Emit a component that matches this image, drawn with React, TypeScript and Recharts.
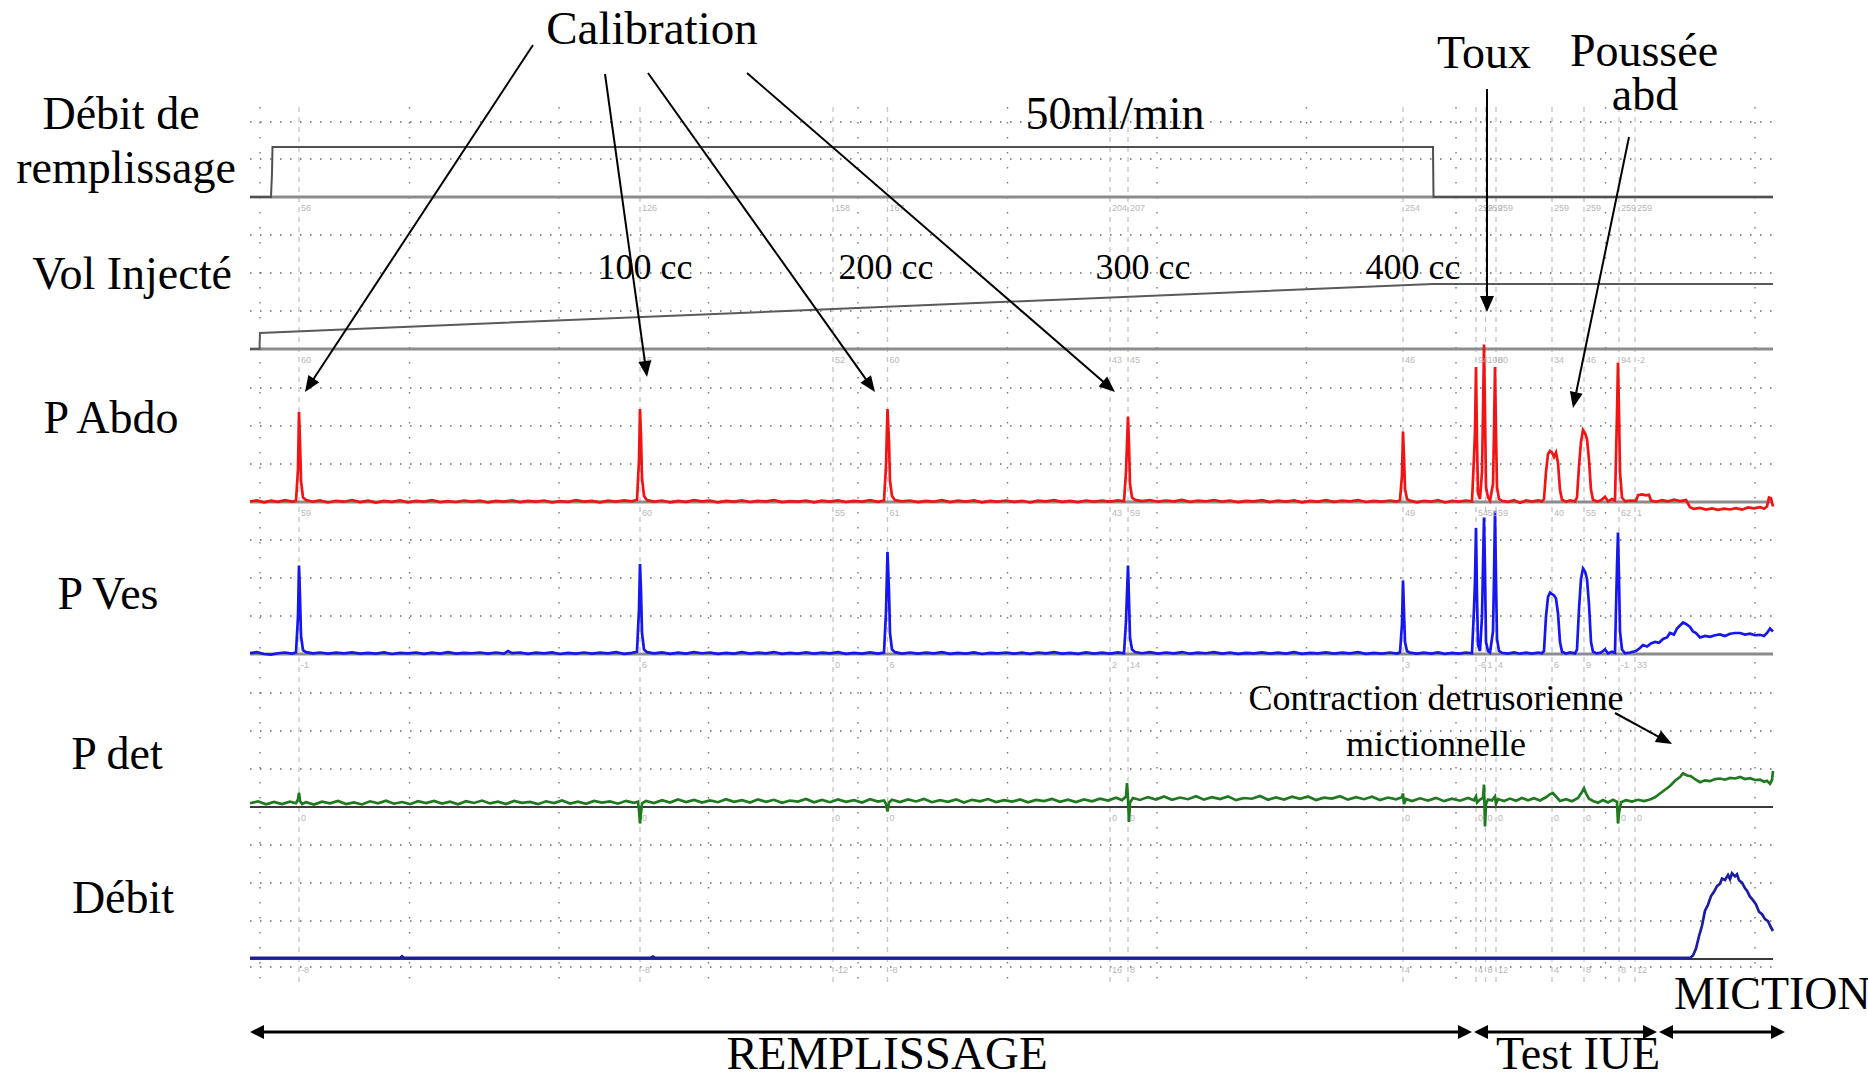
import React from "react";
import { LineChart, Line, XAxis, YAxis, ReferenceLine } from "recharts";

const W = 1868;
const H = 1077;
const T0 = 250; // pixel where time 0 sits
const T_DOMAIN: [number, number] = [-T0, W - T0];

// ---------- traces: [time (s), value] ----------
const debitRemplissage: [number, number][] = [
  [0, 0], [21, 0], [22, 24], [22.5, 50], [1183, 50], [1183.5, 0], [1523, 0],
];

const volInjecte: [number, number][] = [
  [0, 0], [9.5, 0], [10, 107], [1183, 433], [1523, 433],
];

const pAbdo: [number, number][] = [
  [0, 0.4], [7, 1.1], [14, -0.2], [21, 0.9], [28, 0.1], [35, 1.2], [42, 0.3], [46, 0.8],
  [48, 22], [49, 60], [50, 40], [51, 14], [53, 3], [56, 1.3],
  [63, 0.2], [70, 1.0], [78, -0.3], [86, 0.8], [94, 0.2], [102, 1.3], [110, 0.0], [118, 0.9],
  [126, -0.4], [134, 0.7], [142, 0.1], [150, 1.1], [158, -0.2], [166, 0.8], [174, 0.3], [182, 1.2],
  [190, -0.1], [198, 0.6], [206, 0.0], [214, 1.0], [222, 0.2], [230, 0.9], [238, -0.3], [246, 0.7],
  [254, 0.2], [262, 1.1], [270, -0.1], [278, 0.8], [286, 0.3], [294, 1.0], [302, -0.2], [310, 0.6],
  [318, 0.1], [326, 1.2], [334, 0.3], [342, 0.8], [350, -0.2], [358, 0.9], [366, 0.2], [374, 1.1],
  [382, 0.4], [387, 1.5], [389, 28], [390, 62], [391, 44], [392, 16], [394, 4], [397, 1.2],
  [404, 0.3], [412, 1.0], [420, -0.2], [428, 0.8], [436, 0.1], [444, 1.2], [452, 0.4], [460, 0.9],
  [468, -0.3], [476, 0.7], [484, 0.2], [492, 1.1], [500, 0.0], [508, 0.8], [516, 0.4], [524, 1.3],
  [532, -0.1], [540, 0.6], [548, 0.2], [556, 1.0], [564, -0.2], [572, 0.9], [580, 0.3], [588, 1.1],
  [596, 0.0], [604, 0.7], [612, 0.3], [620, 1.2], [628, 0.1], [634, 0.9],
  [636, 24], [637.5, 62], [639, 40], [640, 14], [642, 4], [645, 1.2],
  [652, 0.4], [660, 1.0], [668, -0.1], [676, 0.8], [684, 0.3], [692, 1.2], [700, 0.0], [708, 0.9],
  [716, 0.2], [724, 1.1], [732, -0.2], [740, 0.7], [748, 0.3], [756, 1.0], [764, 0.1], [772, 0.8],
  [780, -0.3], [788, 0.9], [796, 0.4], [804, 1.2], [812, 0.1], [820, 0.8], [828, -0.1], [836, 1.0],
  [844, 0.3], [852, 0.9], [860, 0.2], [868, 1.1], [874, 0.5],
  [876, 20], [878, 57], [879, 38], [880, 12], [882, 3], [885, 1.4],
  [892, 0.6], [900, 1.3], [908, 0.2], [916, 1.0], [924, 0.4], [932, 1.4], [940, 0.1], [948, 0.9],
  [956, 0.5], [964, 1.3], [972, 0.2], [980, 1.0], [988, -0.1], [996, 0.8], [1004, 0.4], [1012, 1.2],
  [1020, 0.0], [1028, 0.9], [1036, 0.3], [1044, 1.1], [1052, -0.2], [1060, 0.7], [1068, 0.3], [1076, 1.2],
  [1084, 0.1], [1092, 0.9], [1100, 0.4], [1108, 1.3], [1116, 0.0], [1124, 0.8], [1132, 0.3], [1140, 1.0],
  [1147, 0.2], [1150, 1.2], [1152, 18], [1153, 47], [1154, 30], [1155, 9], [1157, 2], [1160, 0.9],
  [1167, -0.2], [1174, 0.8], [1181, 0.2], [1188, 1.2], [1195, -0.3], [1202, 0.7], [1209, 0.3], [1216, 1.0],
  [1222, 0.4], [1224, 30], [1225, 47], [1226, 90], [1227, 40], [1228, 6], [1230, 2],
  [1232, 20], [1233, 59], [1234, 105], [1235, 60], [1236, 10], [1238, 3], [1240, 1],
  [1243, 12], [1244, 46], [1245, 90], [1246, 46], [1247, 10], [1249, 2],
  [1252, 0.8], [1258, 0.1], [1264, 1.2], [1270, -0.6], [1276, 1.0], [1282, 0.3], [1288, 1.1], [1292, 0.4],
  [1294, 2], [1296, 20], [1298, 32], [1300, 34], [1302, 33], [1304, 30], [1306, 33], [1308, 26], [1310, 8], [1312, 1.5],
  [1316, 0.2], [1320, 1.0], [1325, 0.4],
  [1327, 3], [1329, 24], [1331, 40], [1333, 48], [1335, 46], [1337, 42], [1339, 28], [1341, 8], [1343, 1.5],
  [1347, 0.3], [1351, 1.2], [1355, 3.5], [1358, 0.4], [1362, 2.0], [1365, 1.0],
  [1366, 30], [1367, 59], [1368, 93], [1369, 60], [1370, 20], [1372, 3], [1375, 0.5],
  [1380, 1.0], [1386, 0.8], [1388, 4.5], [1392, 5.0], [1396, 4.4], [1399, 4.8], [1401, 1.0],
  [1406, 0.2], [1412, 1.2], [1418, 0.4], [1424, 1.5], [1430, 0.6], [1436, 1.3],
  [1440, -3.5], [1444, -4.6], [1450, -4.0], [1456, -5.0], [1462, -4.3], [1468, -5.2], [1474, -4.4],
  [1480, -5.0], [1486, -4.1], [1492, -5.1], [1498, -3.6], [1504, -4.2], [1510, -3.4], [1514, -4.5],
  [1517, -3.0], [1519, 3.0], [1521, 2.5], [1523, -3.0],
];

const pVes: [number, number][] = [
  [0, 0.6], [7, 1.2], [14, 0.0], [21, -0.4], [28, 0.5], [35, 1.0], [42, 0.3], [46, 1.0],
  [48, 25], [49, 59], [50, 38], [51, 12], [53, 2.5], [56, 1.2],
  [63, 0.4], [70, 1.0], [78, 0.2], [86, 0.9], [94, 0.4], [102, 1.1], [110, 0.2], [118, 0.8],
  [126, 0.3], [134, 1.1], [142, 0.0], [150, 0.8], [158, 0.4], [166, 1.0], [174, 0.1], [182, 0.9],
  [190, 0.3], [198, 1.2], [206, 0.2], [214, 0.8], [222, 0.5], [230, 1.0], [238, 0.3], [246, 1.0],
  [254, 0.2], [258, 2.0], [262, 0.6], [270, 1.0], [278, 0.1], [286, 0.9], [294, 0.4], [302, 1.1],
  [310, 0.0], [318, 0.8], [326, 0.3], [334, 1.0], [342, 0.2], [350, 0.9], [358, 0.4], [366, 1.2],
  [374, 0.1], [382, 0.8], [387, 1.5], [389, 30], [390, 60], [391, 42], [392, 14], [394, 3], [397, 1.2],
  [404, 0.4], [412, 1.1], [420, 0.1], [428, 0.9], [436, 0.3], [444, 1.2], [452, 0.5], [460, 1.0],
  [468, 0.1], [476, 0.8], [484, 0.3], [492, 1.2], [500, 0.2], [508, 0.9], [516, 0.4], [524, 1.3],
  [532, 0.1], [540, 0.7], [548, 0.3], [556, 1.1], [564, 0.2], [572, 0.9], [580, 0.4], [588, 1.2],
  [596, 0.1], [604, 0.8], [612, 0.3], [620, 1.1], [628, 0.2], [634, 0.9],
  [636, 28], [637.5, 68], [639, 42], [640, 14], [642, 3], [645, 1.2],
  [652, 0.3], [660, 1.0], [668, 0.2], [676, 0.9], [684, 0.4], [692, 1.2], [700, 0.1], [708, 0.8],
  [716, 0.3], [724, 1.1], [732, 0.0], [740, 0.8], [748, 0.4], [756, 1.0], [764, 0.2], [772, 0.9],
  [780, 0.1], [788, 1.0], [796, 0.4], [804, 1.2], [812, 0.2], [820, 0.8], [828, 0.1], [836, 1.1],
  [844, 0.3], [852, 0.9], [860, 0.2], [868, 1.1], [874, 0.5],
  [876, 22], [878, 59], [879, 36], [880, 11], [882, 3], [885, 1.3],
  [892, 0.5], [900, 1.2], [908, 0.3], [916, 1.0], [924, 0.4], [932, 1.3], [940, 0.2], [948, 0.9],
  [956, 0.5], [964, 1.2], [972, 0.3], [980, 1.0], [988, 0.1], [996, 0.8], [1004, 0.4], [1012, 1.1],
  [1020, 0.2], [1028, 0.9], [1036, 0.3], [1044, 1.2], [1052, 0.1], [1060, 0.7], [1068, 0.4], [1076, 1.1],
  [1084, 0.2], [1092, 0.9], [1100, 0.4], [1108, 1.2], [1116, 0.1], [1124, 0.8], [1132, 0.3], [1140, 1.0],
  [1147, 0.3], [1150, 1.1], [1152, 20], [1153, 49], [1154, 28], [1155, 8], [1157, 2], [1160, 0.9],
  [1167, 0.2], [1174, 0.9], [1181, 0.3], [1188, 1.1], [1195, 0.1], [1202, 0.8], [1209, 0.3], [1216, 1.0],
  [1222, 0.5], [1224, 30], [1225, 49], [1226, 84], [1227, 38], [1228, 6], [1230, 2],
  [1232, 25], [1233, 58], [1234, 91], [1235, 55], [1236, 8], [1238, 2], [1240, 1],
  [1243, 15], [1244, 50], [1245, 95], [1246, 50], [1247, 10], [1249, 2],
  [1252, 0.8], [1258, 0.3], [1264, 1.1], [1270, 0.2], [1276, 0.9], [1282, 0.3], [1288, 1.0], [1292, 0.5],
  [1294, 2], [1296, 25], [1298, 38], [1300, 41], [1302, 40], [1304, 39], [1306, 37], [1308, 27], [1310, 8], [1312, 1.5],
  [1316, 0.3], [1320, 1.0], [1325, 0.4],
  [1327, 3], [1329, 30], [1331, 50], [1333, 57], [1335, 55], [1337, 50], [1339, 33], [1341, 8], [1343, 1.5],
  [1347, 0.4], [1351, 1.0], [1355, 3.0], [1358, 0.4], [1362, 1.5], [1365, 0.8],
  [1366, 30], [1367, 58], [1368, 81], [1369, 50], [1370, 15], [1372, 3], [1375, 0.5],
  [1380, 1.0], [1386, 2.0], [1390, 4.0], [1393, 6.0], [1397, 5.0], [1401, 7.0], [1405, 8.0], [1409, 7.5],
  [1413, 10], [1417, 11], [1420, 14], [1424, 13], [1427, 17], [1430, 19], [1433, 21], [1436, 20],
  [1440, 18], [1443, 15], [1446, 14], [1450, 11], [1455, 12], [1460, 11.5], [1465, 12.5], [1470, 13],
  [1475, 12], [1480, 13.5], [1485, 14], [1490, 14], [1495, 13], [1500, 13.5], [1505, 12.5], [1510, 12.8],
  [1514, 12], [1517, 14], [1520, 17], [1523, 15],
];

const pDet: [number, number][] = [
  [0, 2.5], [8, 3.8], [16, 1.8], [24, 3.4], [32, 2.0], [40, 3.6], [46, 2.5],
  [48, 5], [49, 9.5], [50, 4], [52, 2.0], [56, 3.2],
  [64, 1.6], [72, 3.5], [80, 2.4], [88, 4.0], [96, 2.0], [104, 3.1], [112, 1.7], [120, 3.8],
  [128, 2.5], [136, 4.2], [144, 2.2], [152, 3.3], [160, 1.9], [168, 3.9], [176, 2.6], [184, 4.1],
  [192, 2.3], [200, 3.5], [208, 1.8], [216, 3.9], [224, 2.7], [232, 4.3], [240, 2.4], [248, 3.6],
  [256, 2.0], [264, 4.0], [272, 2.8], [280, 3.4], [288, 1.9], [296, 3.8], [304, 2.6], [312, 4.4],
  [320, 2.3], [328, 3.5], [336, 2.1], [344, 4.0], [352, 2.9], [360, 3.7], [368, 2.2], [376, 4.1],
  [384, 2.8], [388, 3.5], [389, -2], [390, -11], [391, -4], [392, 2.5], [396, 4.0],
  [404, 2.6], [412, 4.5], [420, 3.0], [428, 5.0], [436, 3.3], [444, 4.7], [452, 2.9], [460, 4.4],
  [468, 3.2], [476, 5.2], [484, 3.5], [492, 4.6], [500, 3.0], [508, 5.1], [516, 3.4], [524, 4.8],
  [532, 2.8], [540, 4.3], [548, 3.6], [556, 5.3], [564, 3.1], [572, 4.7], [580, 3.2], [588, 5.0],
  [596, 3.4], [604, 4.6], [612, 3.0], [620, 5.2], [628, 3.6], [634, 4.4],
  [636, 2], [637.5, -3], [639, 3], [642, 4.8],
  [650, 3.3], [658, 5.0], [666, 3.7], [674, 5.4], [682, 3.2], [690, 4.6], [698, 3.5], [706, 5.1],
  [714, 3.0], [722, 4.8], [730, 3.8], [738, 5.3], [746, 3.3], [754, 4.5], [762, 3.6], [770, 5.0],
  [778, 3.1], [786, 4.7], [794, 3.9], [802, 5.4], [810, 3.5], [818, 4.9], [826, 3.3], [834, 5.0],
  [842, 3.8], [850, 5.6], [858, 4.3], [866, 6.2], [872, 4.6],
  [876, 7], [877, 16], [878, 5], [879, -10], [880, 3], [883, 6.0],
  [890, 4.7], [898, 6.6], [906, 5.0], [914, 7.0], [922, 4.8], [930, 6.3], [938, 5.2], [946, 7.2],
  [954, 4.9], [962, 6.5], [970, 5.3], [978, 7.1], [986, 4.6], [994, 6.0], [1002, 5.5], [1010, 7.3],
  [1018, 4.8], [1026, 6.4], [1034, 5.0], [1042, 6.9], [1050, 5.4], [1058, 7.0], [1066, 4.7], [1074, 6.2],
  [1082, 5.6], [1090, 7.2], [1098, 4.9], [1106, 6.5], [1114, 5.2], [1122, 6.8], [1130, 4.6], [1138, 6.3],
  [1146, 5.1], [1152, 6.5], [1153, 9], [1154, 2], [1156, 5.4],
  [1162, 4.0], [1170, 5.8], [1178, 4.3], [1186, 6.1], [1194, 3.9], [1202, 5.5], [1210, 4.2], [1218, 6.0],
  [1224, 4.5], [1226, 7], [1227, 3], [1230, 5.0], [1233, 6], [1234, 15], [1235, -13], [1236, 2], [1238, 5],
  [1242, 4.4], [1245, 7], [1246, 2], [1248, 5.3],
  [1254, 4.0], [1260, 5.6], [1266, 4.2], [1272, 6.0], [1278, 4.5], [1284, 5.8], [1290, 4.3], [1296, 6.5],
  [1300, 8.5], [1303, 9.3], [1306, 7], [1310, 4.0], [1316, 5.2], [1322, 3.8], [1328, 6.0],
  [1332, 10], [1334, 12.5], [1336, 9], [1339, 5.5], [1343, 4.0], [1348, 2.8], [1353, 4.6], [1358, 3.0],
  [1363, 4.8], [1367, 3.5], [1368, -11], [1369, -4], [1371, 3.2], [1376, 4.5], [1382, 3.6], [1388, 4.8],
  [1394, 3.9], [1400, 5.0], [1405, 6.5], [1410, 9.0], [1415, 11.5], [1420, 14.0], [1425, 17.5], [1430, 20.0],
  [1433, 22.5], [1437, 21.0], [1441, 20.5], [1445, 18.5], [1450, 16.5], [1455, 17.8], [1460, 17.2], [1465, 18.6],
  [1470, 19.0], [1475, 18.2], [1480, 19.4], [1485, 19.0], [1490, 20.0], [1495, 18.6], [1500, 19.2], [1505, 18.0],
  [1510, 18.3], [1514, 16.8], [1517, 17.5], [1520, 15.5], [1522, 18], [1523, 24],
];

const debit: [number, number][] = [
  [0, 0.3], [150, 0.3], [152, 0.8], [154, 0.3], [400, 0.3], [403, 0.7], [405, 0.3], [700, 0.3],
  [1000, 0.3], [1250, 0.3], [1440, 0.3], [1443, 1.0], [1446, 3.0], [1449, 6.5], [1452, 9.5],
  [1455, 13.8], [1458, 15.5], [1461, 18.0], [1464, 19.2], [1467, 20.8], [1470, 21.5], [1472, 23.0],
  [1475, 22.6], [1478, 24.0], [1480, 22.8], [1482, 24.5], [1485, 23.6], [1487, 24.2], [1489, 22.5],
  [1492, 21.8], [1495, 20.2], [1497, 19.5], [1500, 17.8], [1503, 16.8], [1506, 15.6], [1509, 13.5],
  [1512, 12.8], [1515, 11.4], [1518, 10.8], [1521, 9.0], [1523, 8.0],
];

// event markers (time, s) and the small values printed by the recorder under each baseline
const eventTimes = [49, 390, 583, 637.5, 860, 878, 1153, 1226, 1235.5, 1246, 1302, 1334, 1369, 1385];
const labelsRempl = ["56", "126", "158", "167", "204", "207", "254", "259", "259", "259", "259", "259", "259", "259"];
const labelsVol = ["60", "55", "52", "60", "43", "45", "46", "94", "100", "80", "34", "46", "94", "-2"];
const labelsAbdo = ["59", "60", "55", "61", "43", "59", "49", "54", "58", "59", "40", "55", "62", "1"];
const labelsVes = ["-1", "6", "0", "6", "2", "14", "3", "-6", "1", "4", "6", "9", "-1", "33"];
const labelsDet = ["0", "0", "0", "0", "0", "0", "0", "0", "0", "0", "0", "0", "0", "0"];
const labelsDebit = ["-8", "-8", "-12", "-8", "16", "8", "4", "4", "8", "12", "4", "8", "8", "12"];

// ---------- layout / style ----------
const SERIES = [
  { key: "rempl", data: debitRemplissage, base: 197, k: 1, color: "#505050", width: 2 },
  { key: "vol", data: volInjecte, base: 349, k: 0.15, color: "#5a5a5a", width: 2 },
  { key: "abdo", data: pAbdo, base: 502, k: 1.5, color: "#f01414", width: 2.7 },
  { key: "ves", data: pVes, base: 654, k: 1.5, color: "#1616ee", width: 2.7 },
  { key: "det", data: pDet, base: 807, k: 1.5, color: "#1f7a1f", width: 2.7 },
  { key: "debit", data: debit, base: 959, k: 3.5, color: "#1c1ca0", width: 2.7 },
];
const LABEL_ROWS = [labelsRempl, labelsVol, labelsAbdo, labelsVes, labelsDet, labelsDebit];

const GRID_TOP = 107;
const GRID_BOTTOM = 982;
const T_END = 1523;
const gridRows = [
  122, 159,
  ...SERIES.slice(1).flatMap((s) => [s.base - 114, s.base - 76, s.base - 38]),
  967,
];
const gridCols = Array.from({ length: 11 }, (_, i) => 10 + 149.5 * i);

const rows: Record<string, number>[] = [];
SERIES.forEach((s) => s.data.forEach(([t, v]) => rows.push({ t, [s.key]: v })));
rows.sort((a, b) => a.t - b.t);

const SERIF = '"Liberation Serif", "Times New Roman", Times, serif';

function Arrow({ x1, y1, x2, y2, sw = 2, hl = 16, hw = 6.5 }: any) {
  const dx = x2 - x1;
  const dy = y2 - y1;
  const L = Math.hypot(dx, dy);
  const ux = dx / L;
  const uy = dy / L;
  const bx = x2 - ux * hl;
  const by = y2 - uy * hl;
  const px = -uy * hw;
  const py = ux * hw;
  return (
    <g>
      <line x1={x1} y1={y1} x2={bx + ux * 2} y2={by + uy * 2} stroke="#000" strokeWidth={sw} />
      <polygon points={`${x2},${y2} ${bx + px},${by + py} ${bx - px},${by - py}`} fill="#000" />
    </g>
  );
}

function DoubleArrow({ x1, x2, y }: any) {
  const hl = 14;
  const hw = 7;
  return (
    <g>
      <line x1={x1 + hl - 2} y1={y} x2={x2 - hl + 2} y2={y} stroke="#000" strokeWidth={3} />
      <polygon points={`${x1},${y} ${x1 + hl},${y - hw} ${x1 + hl},${y + hw}`} fill="#000" />
      <polygon points={`${x2},${y} ${x2 - hl},${y - hw} ${x2 - hl},${y + hw}`} fill="#000" />
    </g>
  );
}

export default function App() {
  return (
    <div style={{ position: "absolute", left: 0, top: 0, width: W, height: H, background: "#fff", overflow: "hidden" }}>
      <LineChart width={W} height={H} data={rows} margin={{ top: 0, right: 0, bottom: 0, left: 0 }}>
        <XAxis dataKey="t" type="number" domain={T_DOMAIN} allowDataOverflow hide />
        <YAxis yAxisId="px" type="number" domain={[0, H]} reversed allowDataOverflow hide />
        {SERIES.map((s) => (
          <YAxis
            key={s.key}
            yAxisId={s.key}
            type="number"
            domain={[(s.base - H) / s.k, s.base / s.k]}
            allowDataOverflow
            hide
          />
        ))}
        {gridRows.map((y) => (
          <ReferenceLine
            key={"r" + y}
            yAxisId="px"
            segment={[{ x: 0, y }, { x: T_END, y }]}
            stroke="#666"
            strokeWidth={1.4}
            strokeDasharray="1.5 8.5"
          />
        ))}
        {gridCols.map((x) => (
          <ReferenceLine
            key={"c" + x}
            yAxisId="px"
            segment={[{ x, y: GRID_TOP }, { x, y: GRID_BOTTOM }]}
            stroke="#777"
            strokeWidth={1.4}
            strokeDasharray="1.5 13.5"
          />
        ))}
        {eventTimes.map((x) => (
          <ReferenceLine
            key={"e" + x}
            yAxisId="px"
            segment={[{ x, y: GRID_TOP }, { x, y: GRID_BOTTOM }]}
            stroke="#c4c4c4"
            strokeWidth={1.3}
            strokeDasharray="5 5"
          />
        ))}
        {SERIES.map((s, i) => (
          <ReferenceLine
            key={"b" + s.key}
            yAxisId="px"
            segment={[{ x: 0, y: s.base }, { x: T_END, y: s.base }]}
            stroke={i >= 4 ? "#3a3a3a" : "#8c8c8c"}
            strokeWidth={i >= 4 ? 2 : 3.2}
          />
        ))}
        {SERIES.map((s) => (
          <Line
            key={s.key}
            yAxisId={s.key}
            dataKey={s.key}
            type="linear"
            stroke={s.color}
            strokeWidth={s.width}
            dot={false}
            activeDot={false}
            connectNulls
            isAnimationActive={false}
          />
        ))}
      </LineChart>

      <svg width={W} height={H} style={{ position: "absolute", left: 0, top: 0, pointerEvents: "none" }}>
        {/* recorder values under each baseline */}
        <g fontFamily='"Liberation Sans", Arial, sans-serif' fontSize={9} fill="#b8b8b8">
          {LABEL_ROWS.map((labels, r) =>
            labels.map((lab, i) => (
              <text key={r + "-" + i} x={T0 + eventTimes[i] + 2} y={SERIES[r].base + 14}>
                {lab}
              </text>
            ))
          )}
        </g>

        <g fontFamily={SERIF} fill="#000" textAnchor="middle">
          {/* channel names */}
          <text x={121} y={129} fontSize={46}>Débit de</text>
          <text x={126} y={183} fontSize={46}>remplissage</text>
          <text x={132} y={289} fontSize={46}>Vol Injecté</text>
          <text x={111} y={433} fontSize={46}>P Abdo</text>
          <text x={108} y={609} fontSize={46}>P Ves</text>
          <text x={117} y={769} fontSize={46}>P det</text>
          <text x={123} y={913} fontSize={46}>Débit</text>

          {/* annotations */}
          <text x={652} y={44} fontSize={47}>Calibration</text>
          <text x={1115} y={129} fontSize={46}>50ml/min</text>
          <text x={645} y={279} fontSize={36}>100 cc</text>
          <text x={886} y={279} fontSize={36}>200 cc</text>
          <text x={1143} y={279} fontSize={36}>300 cc</text>
          <text x={1413} y={279} fontSize={36}>400 cc</text>
          <text x={1484} y={68} fontSize={46}>Toux</text>
          <text x={1644} y={66} fontSize={46}>Poussée</text>
          <text x={1645} y={110} fontSize={46}>abd</text>
          <text x={1436} y={710} fontSize={36}>Contraction detrusorienne</text>
          <text x={1436} y={756} fontSize={36}>mictionnelle</text>
          <text x={1674} y={1009} fontSize={46} textAnchor="start">MICTION</text>
          <text x={887} y={1069} fontSize={47}>REMPLISSAGE</text>
          <text x={1578} y={1069} fontSize={46}>Test IUE</text>
        </g>

        <Arrow x1={533} y1={45} x2={305} y2={392} />
        <Arrow x1={605} y1={74} x2={647} y2={377} />
        <Arrow x1={648} y1={73} x2={875} y2={392} />
        <Arrow x1={747} y1={73} x2={1115} y2={392} />
        <Arrow x1={1487} y1={89} x2={1487} y2={312} hw={7} />
        <Arrow x1={1629} y1={137} x2={1573} y2={408} />
        <Arrow x1={1615} y1={713} x2={1672} y2={744} />

        <DoubleArrow x1={250} x2={1472} y={1032} />
        <DoubleArrow x1={1474} x2={1657} y={1032} />
        <DoubleArrow x1={1659} x2={1785} y={1032} />
      </svg>
    </div>
  );
}
